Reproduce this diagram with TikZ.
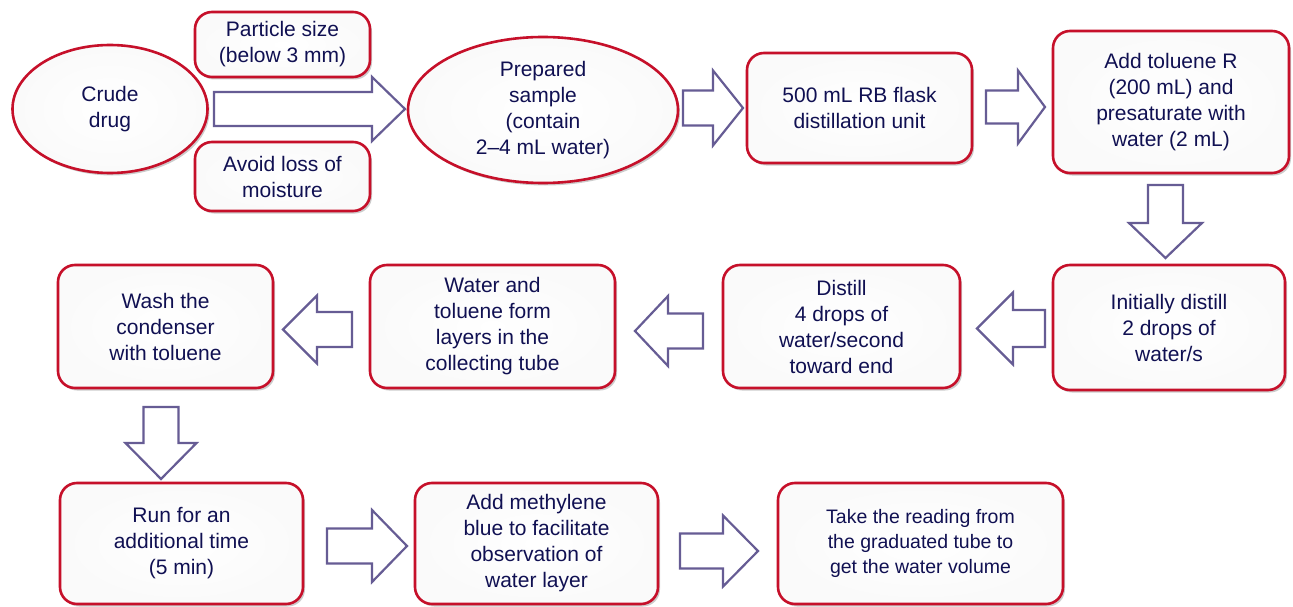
\documentclass[tikz,border=0pt]{standalone}
\usepackage{fontspec}
\setmainfont{Liberation Sans}
\usetikzlibrary{shapes.geometric,shadows}
\definecolor{boxred}{RGB}{198,16,42}
\definecolor{txtblue}{RGB}{16,16,82}
\definecolor{arrowpurple}{RGB}{102,92,148}
% block arrow: #1 tail centre, #2 rotation, #3 length, #4 head length, #5 shaft half width, #6 head half width
\newcommand\blockarrow[6]{%
  \draw[flowarrow,shift={#1},rotate=#2]
    (0,-#5) -- ({#3-#4},-#5) -- ({#3-#4},-#6) -- (#3,0) -- ({#3-#4},#6) -- ({#3-#4},#5) -- (0,#5) -- cycle;}
\tikzset{
  boxbase/.style={draw=boxred, line width=2.6pt, inner color=white, outer color=black!2,
    drop shadow={shadow xshift=2pt, shadow yshift=-2.5pt, opacity=0.2, fill=black},
    text=txtblue, align=center, inner sep=0pt,
    font=\fontsize{21pt}{26pt}\selectfont},
  stepbox/.style={boxbase, rectangle, rounded corners=17pt},
  stepoval/.style={boxbase, ellipse},
  flowarrow/.style={draw=arrowpurple, fill=white, line width=2.2pt, line join=miter}
}
\begin{document}
\begin{tikzpicture}[x=1pt,y=-1pt]
\useasboundingbox[fill=white] (0,0) rectangle (1293,607);

% block arrows (drawn first, shapes sit on top)
\blockarrow{(214,109)}{0}{191}{33}{17}{32}
\blockarrow{(683,108)}{0}{60}{30}{17.5}{37.5}
\blockarrow{(986,107)}{0}{59}{27}{16.5}{36.5}
\blockarrow{(1165.5,185)}{-90}{73}{35}{17.5}{36.5}
\blockarrow{(1045,328.5)}{180}{68}{36}{18.5}{36}
\blockarrow{(703,331)}{180}{68}{33}{17.5}{35}
\blockarrow{(352,329.5)}{180}{69}{34}{17.5}{34}
\blockarrow{(161,407)}{-90}{72}{36}{17.5}{35.5}
\blockarrow{(327,546)}{0}{80}{35}{17.5}{36}
\blockarrow{(680,551)}{0}{78}{35}{17.5}{35.5}

% top row
\node[stepoval, minimum width=195pt, minimum height=128pt] (crude) at (110,109) {Crude\\drug};
\node[stepbox, minimum width=175pt, minimum height=65pt] (part) at (282.5,44.5) {Particle size\\(below 3 mm)};
\node[stepbox, minimum width=175pt, minimum height=69pt] (avoid) at (282.5,176.5) {Avoid loss of\\moisture};
\node[stepoval, minimum width=270pt, minimum height=146pt] (prep) at (543,110) {Prepared\\sample\\(contain\\2--4 mL water)};
\node[stepbox, minimum width=225pt, minimum height=110pt] (flask) at (859.5,108) {500 mL RB flask\\distillation unit};
\node[stepbox, minimum width=236pt, minimum height=142pt] (tol) at (1171,102) {Add toluene R\\(200 mL) and\\presaturate with\\water (2 mL)};

% middle row
\node[stepbox, minimum width=232pt, minimum height=125pt] (init) at (1169,327.5) {Initially distill\\2 drops of\\water/s};
\node[stepbox, minimum width=237pt, minimum height=123pt] (dist) at (841.5,326.5) {Distill\\4 drops of\\water/second\\toward end};
\node[stepbox, minimum width=245pt, minimum height=123pt] (water) at (492.5,326.5) {Water and\\toluene form\\layers in the\\collecting tube};
\node[stepbox, minimum width=215pt, minimum height=123pt] (wash) at (165.5,326.5) {Wash the\\condenser\\with toluene};

% bottom row
\node[stepbox, minimum width=243pt, minimum height=121pt] (run) at (181.5,543.5) {Run for an\\additional time\\(5 min)};
\node[stepbox, minimum width=243pt, minimum height=121pt] (meth) at (536.5,543.5) {Add methylene\\blue to facilitate\\observation of\\water layer};
\node[stepbox, minimum width=285pt, minimum height=121pt, font=\fontsize{19.5pt}{25pt}\selectfont] (take) at (920.5,543.5) {Take the reading from\\the graduated tube to\\get the water volume};
\end{tikzpicture}
\end{document}
